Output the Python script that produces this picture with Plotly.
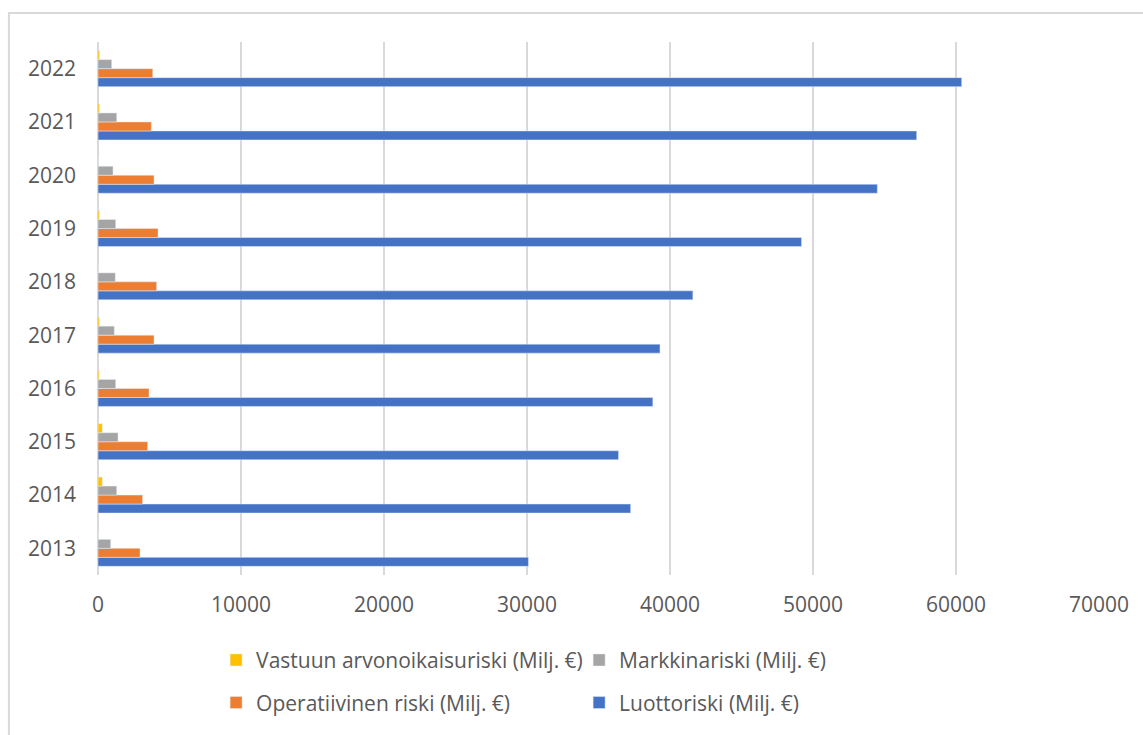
import plotly.graph_objects as go

# Vuodet ja riskilajien pääomavaatimukset (Milj. €)
vuodet = ["2013", "2014", "2015", "2016", "2017", "2018", "2019", "2020", "2021", "2022"]
luottoriski = [30100, 37250, 36400, 38800, 39300, 41600, 49200, 54500, 57250, 60400]
operatiivinen = [2940, 3120, 3470, 3570, 3920, 4100, 4200, 3920, 3730, 3830]
markkinariski = [890, 1310, 1400, 1240, 1140, 1210, 1240, 1050, 1310, 960]
vastuun_arvonoikaisu = [0, 300, 300, 80, 100, 0, 100, 0, 100, 110]

x_ticks = [0, 10000, 20000, 30000, 40000, 50000, 60000, 70000]

font_family = "Open Sans"
text_color = "#595959"

fig = go.Figure()

# Plotly draws the first trace of a horizontal group at the bottom,
# so the series are added bottom-up.
fig.add_trace(go.Bar(
    y=vuodet, x=luottoriski, orientation="h",
    name="Luottoriski (Milj. €)", marker_color="#4472C4",
    legend="legend2", legendrank=2,
))
fig.add_trace(go.Bar(
    y=vuodet, x=operatiivinen, orientation="h",
    name="Operatiivinen riski (Milj. €)", marker_color="#ED7D31",
    legend="legend2", legendrank=1,
))
fig.add_trace(go.Bar(
    y=vuodet, x=markkinariski, orientation="h",
    name="Markkinariski (Milj. €)", marker_color="#A5A5A5",
    legend="legend", legendrank=2,
))
fig.add_trace(go.Bar(
    y=vuodet, x=vastuun_arvonoikaisu, orientation="h",
    name="Vastuun arvonoikaisuriski (Milj. €)", marker_color="#FFC000",
    legend="legend", legendrank=1,
))

legend_style = dict(
    orientation="h",
    xanchor="left",
    yanchor="middle",
    entrywidth=318,
    font=dict(family=font_family, size=21, color=text_color),
    bgcolor="rgba(0,0,0,0)",
    itemclick=False,
    itemdoubleclick=False,
)

fig.update_layout(
    width=1143,
    height=735,
    margin=dict(l=98, r=44, t=42, b=160),
    paper_bgcolor="white",
    plot_bgcolor="white",
    barmode="group",
    bargap=0.325,
    bargroupgap=0,
    font=dict(family=font_family, size=21, color=text_color),
    legend=dict(x=0.118, y=-0.16, **legend_style),
    legend2=dict(x=0.118, y=-0.24, **legend_style),
    xaxis=dict(
        range=[0, 70000],
        tickvals=x_ticks,
        ticktext=[str(v) for v in x_ticks],
        showgrid=True,
        gridcolor="#D9D9D9",
        gridwidth=2,
        zeroline=True,
        zerolinecolor="#D9D9D9",
        zerolinewidth=2,
        showline=False,
        ticks="",
        ticklabelstandoff=15,
        tickfont=dict(family=font_family, size=21, color=text_color),
    ),
    yaxis=dict(
        type="category",
        categoryorder="array",
        categoryarray=vuodet,
        showgrid=False,
        zeroline=False,
        showline=False,
        ticks="",
        ticklabelstandoff=21,
        tickfont=dict(family=font_family, size=21, color=text_color),
    ),
    shapes=[
        # chart frame (top and left edges fall inside the canvas)
        dict(
            type="rect", xref="paper", yref="paper",
            x0=-0.089, x1=1.2, y0=-0.6, y1=1.0545,
            line=dict(color="#D9D9D9", width=2),
            fillcolor="rgba(0,0,0,0)",
            layer="below",
        ),
    ],
)

fig.write_html("out.html")
